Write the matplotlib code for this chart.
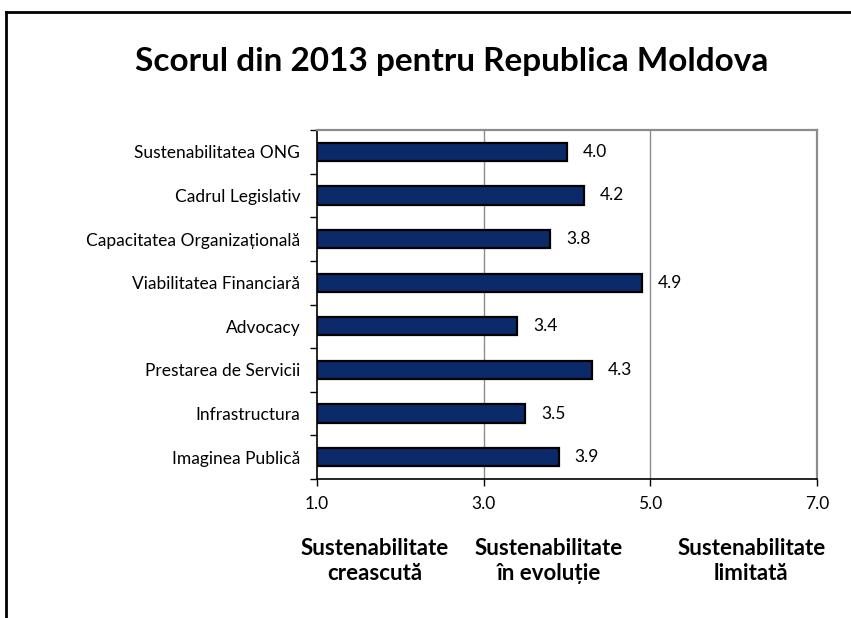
import matplotlib
matplotlib.use("Agg")
import numpy as np
from matplotlib import pyplot as plt
from matplotlib.lines import Line2D
from matplotlib.transforms import blended_transform_factory

plt.rcParams['font.family'] = ['Lato', 'DejaVu Sans']

title = "Scorul din 2013 pentru Republica Moldova"
categories = ["Sustenabilitatea ONG", "Cadrul Legislativ", "Capacitatea Organizațională",
              "Viabilitatea Financiară", "Advocacy", "Prestarea de Servicii",
              "Infrastructura", "Imaginea Publică"]
scores = [4.0, 4.2, 3.8, 4.9, 3.4, 4.3, 3.5, 3.9]
x_ticks = [1.0, 3.0, 5.0, 7.0]
zones = ["Sustenabilitate\ncreascută", "Sustenabilitate\nîn evoluție", "Sustenabilitate\nlimitată"]
zone_centers = [1.69, 3.78, 6.21]

fig = plt.figure(figsize=(8.51, 6.18), dpi=100)
ax = fig.add_axes([317 / 851, 1 - 479 / 618, 500 / 851, 349 / 618])

y = np.arange(len(categories))
x0 = x_ticks[0]
ax.barh(y, np.array(scores) - x0, left=x0, height=0.42, color='#0b2a6a',
        edgecolor='black', linewidth=1.6, zorder=3)
for yi, v in zip(y, scores):
    ax.text(v + 0.19, yi, f"{v:.1f}", va='center', ha='left', fontsize=12.5)

ax.set_xlim(x_ticks[0], x_ticks[-1])
ax.set_ylim(len(categories) - 0.5, -0.5)
ax.set_xticks(x_ticks)
ax.set_xticklabels([f"{t:.1f}" for t in x_ticks], fontsize=12.5)
ax.set_yticks(y)
ax.set_yticklabels(categories, fontsize=12.5)
# tick marks sit between the categories
ax.set_yticks(np.arange(-0.5, len(categories), 1.0), minor=True)
ax.tick_params(axis='y', which='major', length=0, pad=12)
ax.tick_params(axis='y', which='minor', length=5, width=1, direction='out')
ax.tick_params(axis='x', length=5, width=1, direction='out', pad=7)

for g in x_ticks[1:-1]:
    ax.axvline(g, color='#8c8c8c', linewidth=1, zorder=1)
for s in ['top', 'right']:
    ax.spines[s].set_color('#8c8c8c')
    ax.spines[s].set_linewidth(1.6)
for s in ['left', 'bottom']:
    ax.spines[s].set_color('black')
    ax.spines[s].set_linewidth(1.2)

fig.text(452 / 851, 1 - 62 / 618, title, ha='center', va='center',
         fontsize=24, fontweight='bold')

zone_trans = blended_transform_factory(ax.transData, fig.transFigure)
for label, xc in zip(zones, zone_centers):
    ax.text(xc, 1 - 561 / 618, label, transform=zone_trans,
            ha='center', va='center', fontsize=16, fontweight='bold', linespacing=1.18)

# outer frame (only left and top edges visible)
fig.add_artist(Line2D([6 / 851, 6 / 851], [0, 1 - 12 / 618], color='black', linewidth=2,
                      transform=fig.transFigure))
fig.add_artist(Line2D([6 / 851, 1], [1 - 12 / 618, 1 - 12 / 618], color='black', linewidth=2,
                      transform=fig.transFigure))

fig.savefig("out.png", dpi=100)
